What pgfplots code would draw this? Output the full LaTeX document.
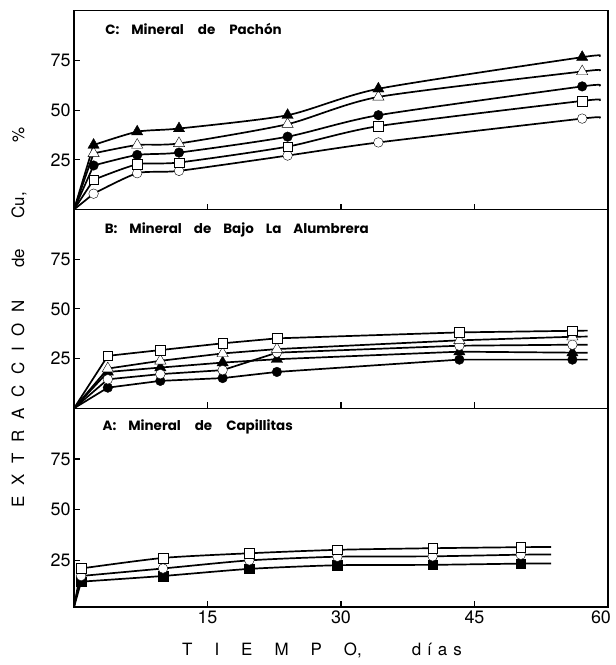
\documentclass[border=0pt]{standalone}
\usepackage{fontspec}
\setmainfont{TeX Gyre Heros}
\newfontfamily\pf{Poppins}
\usepackage{pgfplots}
\pgfplotsset{compat=1.18}
\pgfplotsset{
  panel/.style={
    scale only axis, width=534bp, height=198.7bp,
    xmin=0, xmax=60, ymin=0, ymax=100,
    xtick={15,30,45,60}, ytick={25,50,75},
    tick pos=left, tick align=inside, major tick length=6bp,
    tick style={line width=1.1bp, black},
    axis line style={line width=1.2bp},
    tick label style={font=\fontsize{18}{20}\selectfont},
    /pgf/number format/assume math mode=true,
  },
  ln/.style={black, line width=1.7bp, smooth, tension=0.4, mark=none},
  ls/.style={black, line width=1.7bp, mark=none},
  mk/.style={only marks, mark options={line width=1.2bp, draw=black}},
  ftri/.style={mk, mark=triangle*, mark size=6.5bp, mark options={fill=black}},
  otri/.style={mk, mark=triangle*, mark size=6.5bp, mark options={fill=white}},
  fcir/.style={mk, mark=*, mark size=4.8bp, mark options={fill=black}},
  ocir/.style={mk, mark=*, mark size=4.8bp, mark options={fill=white}},
  osq/.style={mk, mark=square*, mark size=4.8bp, mark options={fill=white}},
  fsq/.style={mk, mark=square*, mark size=4.8bp, mark options={fill=black}},
}
\newcommand{\plab}{\pf\bfseries\fontsize{13.5}{14}\selectfont}
\begin{document}
\begin{tikzpicture}
% ---------------- Panel A ----------------
\begin{axis}[panel, at={(0bp,0bp)}, ymin=2, xticklabels={15,30,45,\hspace*{-14bp}60}]
\node[anchor=west, font=\plab] at (rel axis cs:0.047,0.904) {A:\hspace{12bp}Mineral\hspace{14bp}de\hspace{14bp}Capillitas};
\addplot[ls] coordinates {(0,2)(0.8,21)};
\addplot[ln] coordinates {(0.8,21)(10,26.2)(19.7,28.5)(29.6,30.2)(40.3,31)(50.2,31.5)(53.6,31.6)};
\addplot[ls] coordinates {(0,2)(0.8,17.3)};
\addplot[ln] coordinates {(0.8,17.3)(10,21)(19.7,25)(29.6,26.8)(40.3,27)(50.2,27.8)(53.6,27.9)};
\addplot[ls] coordinates {(0,2)(0.8,14.5)};
\addplot[ln] coordinates {(0.8,14.5)(10,17.3)(19.7,20.8)(29.6,22.6)(40.3,22.8)(50.2,23.4)(53.6,23.5)};
\addplot[fsq] coordinates {(0.8,14.5)(10,17.3)(19.7,20.8)(29.6,22.6)(40.3,22.8)(50.2,23.4)};
\addplot[ocir] coordinates {(0.8,17.3)(10,21)(19.7,25)(29.6,26.8)(40.3,27)(50.2,27.8)};
\addplot[osq] coordinates {(0.8,21)(10,26.2)(19.7,28.5)(29.6,30.2)(40.3,31)(50.2,31.5)};
\end{axis}
% ---------------- Panel B ----------------
\begin{axis}[panel, at={(0bp,198.7bp)}, xticklabels={}]
\node[anchor=west, font=\plab] at (rel axis cs:0.051,0.9) {B:\hspace{12bp}Mineral\hspace{12bp}de\hspace{12bp}Bajo\hspace{12bp}La\hspace{12bp}Alumbrera};
\addplot[ls] coordinates {(0,0)(3.8,26.4)(9.7,29.3)(16.7,32.7)(22.8,35.2)(43.3,38.2)(56,39)(57.7,39.1)};
\addplot[ls] coordinates {(0,0)(3.8,20)(9.7,23.9)(16.7,27.6)(22.8,29.8)(43.3,34.2)(56,36)(57.7,36.1)};
\addplot[ls] coordinates {(0,0)(3.8,14.6)(9.7,17.2)(16.7,19.2)(22.8,28)(43.3,31.5)(56,32)(57.7,32)};
\addplot[ls] coordinates {(0,0)(3.8,18.3)(9.7,20.5)(16.7,23)(22.8,24.7)(43.3,28.5)(56,28)(57.7,28)};
\addplot[ls] coordinates {(0,0)(3.8,10.4)(9.7,13.8)(16.7,15.2)(22.8,18.3)(43.3,24.5)(56,24.5)(57.7,24.5)};
\addplot[fcir] coordinates {(3.8,10.4)(9.7,13.8)(16.7,15.2)(22.8,18.3)(43.3,24.5)(56,24.5)};
\addplot[ftri] coordinates {(3.8,18.3)(9.7,20.5)(16.7,23)(22.8,24.7)(43.3,28.5)(56,28)};
\addplot[ocir] coordinates {(3.8,14.6)(9.7,17.2)(16.7,19.2)(22.8,28)(43.3,31.5)(56,32)};
\addplot[otri] coordinates {(3.8,20)(9.7,23.9)(16.7,27.6)(22.8,29.8)(43.3,34.2)(56,36)};
\addplot[osq] coordinates {(3.8,26.4)(9.7,29.3)(16.7,32.7)(22.8,35.2)(43.3,38.2)(56,39)};
\end{axis}
% ---------------- Panel C ----------------
\begin{axis}[panel, at={(0bp,397.4bp)}, xticklabels={}]
\node[anchor=west, font=\plab] at (rel axis cs:0.052,0.909) {C:\hspace{12bp}Mineral\hspace{14bp}de\hspace{14bp}Pach\'on};
\addplot[ls] coordinates {(0,0)(2.2,32.5)};
\addplot[ln] coordinates {(2.2,32.5)(7.1,39.2)(11.8,40.8)(24.0,47.5)(34.2,60.8)(57.1,76.7)(59,77.2)};
\addplot[ls] coordinates {(0,0)(2.2,28.3)};
\addplot[ln] coordinates {(2.2,28.3)(7.1,32.5)(11.8,33.3)(24.0,43)(34.2,56.7)(57.1,69.5)(59,70)};
\addplot[ls] coordinates {(0,0)(2.2,22.2)};
\addplot[ln] coordinates {(2.2,22.2)(7.1,27.5)(11.8,28.7)(24.0,36.7)(34.2,47.5)(57.1,62)(59,62.3)};
\addplot[ls] coordinates {(0,0)(2.2,15)};
\addplot[ln] coordinates {(2.2,15)(7.1,22.8)(11.8,23.7)(24.0,31.7)(34.2,42)(57.1,54.7)(59,55)};
\addplot[ls] coordinates {(0,0)(2.2,8)};
\addplot[ln] coordinates {(2.2,8)(7.1,18.3)(11.8,19.5)(24.0,27.2)(34.2,33.8)(57.1,45.8)(59,46.2)};
\addplot[ocir] coordinates {(2.2,8)(7.1,18.3)(11.8,19.5)(24.0,27.2)(34.2,33.8)(57.1,45.8)};
\addplot[osq] coordinates {(2.2,15)(7.1,22.8)(11.8,23.7)(24.0,31.7)(34.2,42)(57.1,54.7)};
\addplot[fcir] coordinates {(2.2,22.2)(7.1,27.5)(11.8,28.7)(24.0,36.7)(34.2,47.5)(57.1,62)};
\addplot[otri] coordinates {(2.2,28.3)(7.1,32.5)(11.8,33.3)(24.0,43)(34.2,56.7)(57.1,69.5)};
\addplot[ftri] coordinates {(2.2,32.5)(7.1,39.2)(11.8,40.8)(24.0,47.5)(34.2,60.8)(57.1,76.7)};
\end{axis}
% ---------------- Axis titles ----------------
\node[rotate=90, font=\fontsize{17}{17}\selectfont] at (-55bp,289.5bp)
  {E\hspace{10.7bp}X\hspace{10.7bp}T\hspace{10.7bp}R\hspace{10.7bp}A\hspace{10.7bp}C\hspace{10.7bp}C\hspace{10.7bp}I\hspace{10.7bp}O\hspace{10.7bp}N\hspace{33bp}de\hspace{30bp}Cu,\hspace{50bp}\%};
\node[font=\fontsize{17}{17}\selectfont] at (248bp,-43bp)
  {T\hspace{22bp}I\hspace{22bp}E\hspace{22bp}M\hspace{22bp}P\hspace{22bp}O,\hspace{50bp}d\hspace{6bp}\'{\i}\hspace{6bp}a\hspace{6bp}s};
\pgfresetboundingbox
\path[use as bounding box] (-74bp,-58bp) rectangle (542bp,607bp);
\end{tikzpicture}
\end{document}
